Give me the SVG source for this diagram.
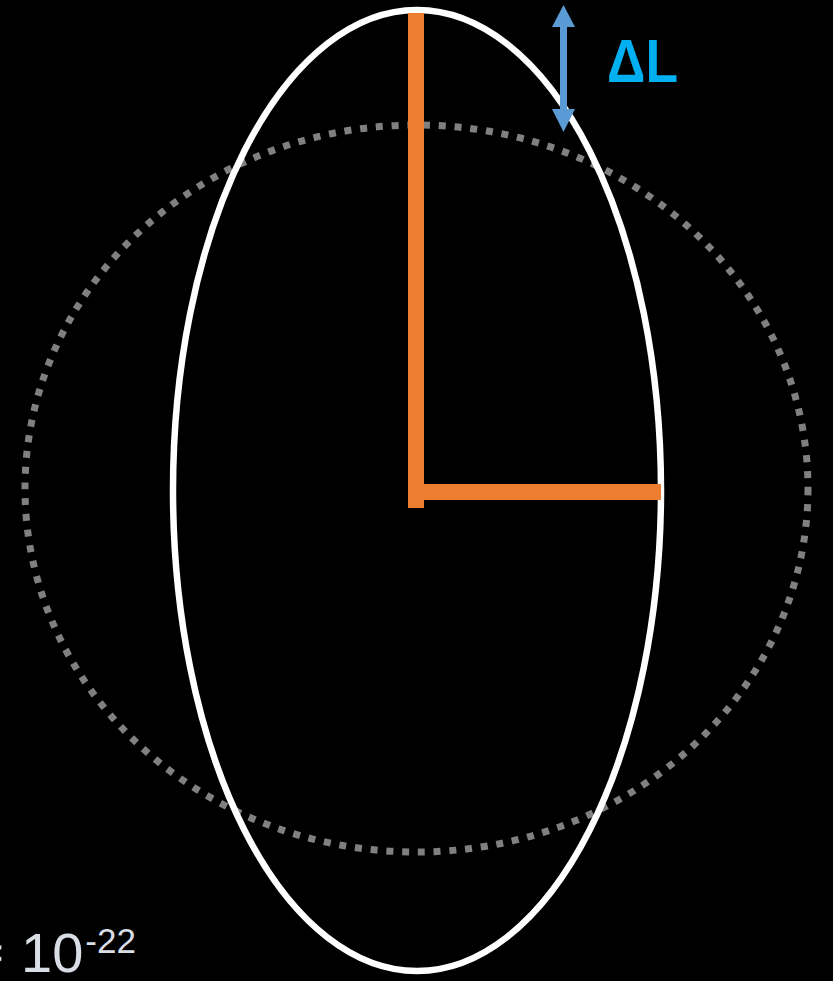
<svg xmlns="http://www.w3.org/2000/svg" width="833" height="981" viewBox="0 0 833 981">
<defs>
<style>
.orange{fill:#ED7D31}
.label{font-family:"Liberation Sans",Arial,sans-serif}
</style>
</defs>
<rect x="0" y="0" width="833" height="981" fill="#000000"/>
<g id="dotted-circle">
<ellipse cx="416.5" cy="488.5" rx="391.5" ry="363.5" fill="none" stroke="#808080" stroke-width="7" stroke-dasharray="7 8.8"/>
</g>
<g id="strained-ellipse">
<ellipse cx="417" cy="490.5" rx="244" ry="480.5" fill="none" stroke="#FFFFFF" stroke-width="6.5"/>
</g>
<g id="arms">
<rect class="orange" x="408" y="13" width="16" height="495"/>
<rect class="orange" x="408" y="484" width="253" height="16"/>
</g>
<g id="delta-arrow">
<rect x="560" y="26" width="7" height="84" fill="#5B9BD5"/>
<polygon points="563.5,5 575,27 552,27" fill="#5B9BD5"/>
<polygon points="563.5,132 575,109 552,109" fill="#5B9BD5"/>
</g>
<g id="delta-label">
<text class="label" x="607" y="82" font-size="62" font-weight="bold" fill="#00B0F0" textLength="71" lengthAdjust="spacingAndGlyphs">ΔL</text>
</g>
<g id="ratio-label">
<text class="label" x="3" y="972" font-size="56" fill="#D9DEE6" text-anchor="end">≈</text>
<text class="label" x="21" y="972" font-size="56" fill="#D9DEE6">10<tspan font-size="35" dy="-19" dx="2">-22</tspan></text>
</g>
</svg>
